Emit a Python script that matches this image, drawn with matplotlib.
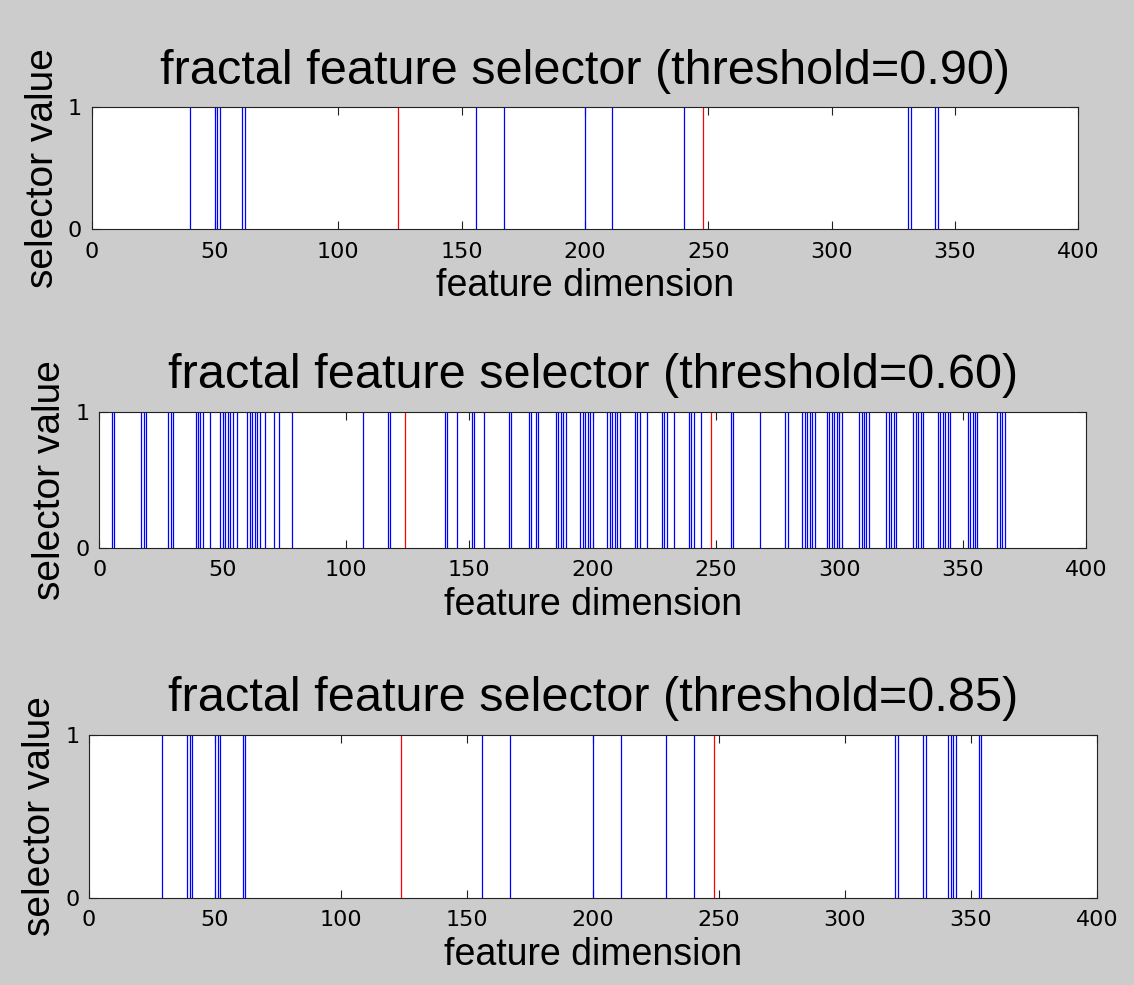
import numpy as np
import matplotlib.pyplot as plt

plt.rcParams['font.family'] = ['Liberation Sans', 'DejaVu Sans']

# 阈值与选中的特征维度
thresholds = ['0.90', '0.60', '0.85']

sel_090 = [40, 50, 51, 52, 61, 62, 156, 167, 200, 211, 240,
           331, 332, 342, 343]

sel_060 = [5, 6, 17, 18, 19, 28, 29, 30, 39, 40, 41, 42, 45,
           49, 50, 51, 52, 53, 54, 56, 60, 61, 62, 63, 64, 65, 67,
           71, 73, 78, 107, 117, 118,
           140, 141, 145, 151, 152, 156, 166, 167, 174, 175, 177, 178,
           185, 186, 187, 188, 189, 195, 196, 197, 198, 199, 200,
           206, 207, 208, 209, 210, 211, 217, 218, 219, 222,
           228, 229, 230, 233, 239, 240, 241, 244, 256, 257,
           268, 278, 279, 285, 286, 287, 288, 289, 290,
           295, 296, 297, 298, 299, 300, 301, 308, 309, 310, 311, 312,
           319, 320, 321, 322, 323, 330, 331, 332, 333, 334,
           340, 341, 342, 343, 344, 345, 352, 353, 354, 355, 356,
           364, 365, 366, 367]

sel_085 = [29, 39, 40, 41, 50, 51, 52, 61, 62, 156, 167, 200, 211,
           229, 240, 320, 321, 331, 332, 341, 342, 343, 344, 353, 354]

# 红线（分段边界）
boundaries = [124, 248]

xticks = np.arange(0, 401, 50)

W, H = 1134, 985
fig = plt.figure(figsize=(W / 100, H / 100), dpi=100, facecolor='#cccccc')

# 各子图的像素框：左, 上, 右, 下
boxes = [(91.7, 107.3, 1078.3, 229.0),
         (99.3, 411.7, 1086.0, 547.7),
         (89.0, 734.7, 1097.0, 897.5)]

for sel, th, (l, t, r, b) in zip([sel_090, sel_060, sel_085], thresholds, boxes):
    ax = fig.add_axes([l / W, (H - b) / H, (r - l) / W, (b - t) / H])
    ax.set_facecolor('white')
    ax.vlines(sel, 0, 1, colors='#0000ff', linewidth=0.9)
    ax.vlines(boundaries, 0, 1, colors='#ff0000', linewidth=0.9)
    ax.set_xlim(0, 400)
    ax.set_ylim(0, 1)
    ax.set_xticks(xticks)
    ax.set_yticks([0, 1])
    ax.tick_params(direction='in', top=True, right=True, length=6,
                   width=0.8, color='#222222', labelsize=16)
    ax.tick_params(axis='x', pad=9)
    ax.tick_params(axis='y', pad=7)
    for lab in ax.get_xticklabels() + ax.get_yticklabels():
        lab.set_fontfamily('DejaVu Sans')
    for sp in ax.spines.values():
        sp.set_color('#222222')
        sp.set_linewidth(0.8)
    ax.set_title('fractal feature selector (threshold=%s)' % th,
                 fontsize=35, pad=17)
    ax.set_xlabel('feature dimension', fontsize=27, labelpad=5)
    ax.set_ylabel('selector value', fontsize=28, labelpad=5)

plt.savefig('out.png', dpi=100, facecolor=fig.get_facecolor())
